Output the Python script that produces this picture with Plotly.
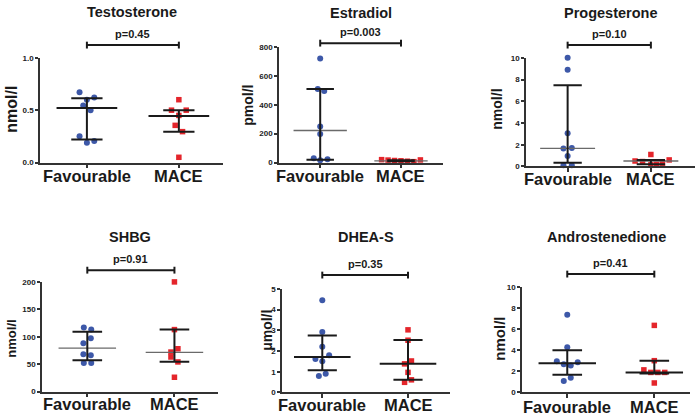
import plotly.graph_objects as go

# groups and panel texts
groups = ["Favourable", "MACE"]
titles = ["Testosterone", "Estradiol", "Progesterone", "SHBG", "DHEA-S", "Androstenedione"]
units = ["nmol/l", "pmol/l", "nmol/l", "nmol/l", "μmol/l", "nmol/l"]
pvals = ["p=0.45", "p=0.003", "p=0.10", "p=0.91", "p=0.35", "p=0.41"]
ymax = [1.0, 800, 10, 200, 5, 10]
ydtick = [0.5, 200, 2, 50, 1, 2]

# individual values
testo_fav = [0.67, 0.62, 0.60, 0.545, 0.50, 0.25, 0.19, 0.205]
testo_mace = [0.60, 0.50, 0.50, 0.45, 0.355, 0.295, 0.05]
estr_fav = [720, 510, 495, 250, 197, 30, 15, 22]
estr_mace = [20, 17, 14, 12, 9, 6, 18]
prog_fav = [10.0, 8.9, 3.05, 1.65, 1.7, 0.95, 0.1, 0.1]
prog_mace = [1.1, 0.5, 0.45, 0.6, 0.3, 0.15, 0.2]
shbg_fav = [117, 113, 97, 88, 68, 66, 52, 52]
shbg_mace = [200, 113, 78, 72, 63, 54, 26]
dhea_fav = [4.45, 2.92, 2.2, 1.8, 1.62, 1.51, 0.9, 0.8]
dhea_mace = [3.02, 2.52, 1.52, 1.38, 0.97, 0.61, 0.49]
andro_fav = [7.36, 4.29, 2.95, 2.86, 2.67, 2.55, 1.4, 1.09]
andro_mace = [6.35, 3.01, 2.14, 1.9, 1.9, 1.9, 0.9]

# median, q1, q3 as drawn (fav, mace)
testo_stats = [(0.52, 0.22, 0.615), (0.445, 0.295, 0.50)]
estr_stats = [(222, 20, 510), (12, 8, 16)]
prog_stats = [(1.67, 0.35, 7.47), (0.5, 0.2, 0.6)]
shbg_stats = [(79, 57, 109), (71.5, 54.5, 113)]
dhea_stats = [(1.71, 1.07, 2.75), (1.38, 0.61, 2.53)]
andro_stats = [(2.77, 1.67, 4.0), (1.9, 1.8, 3.0)]

values = [
    (testo_fav, testo_mace), (estr_fav, estr_mace), (prog_fav, prog_mace),
    (shbg_fav, shbg_mace), (dhea_fav, dhea_mace), (andro_fav, andro_mace),
]
stats = [testo_stats, estr_stats, prog_stats, shbg_stats, dhea_stats, andro_stats]

# horizontal scatter of dots (jitter), styling only
jitter = [
    ([-0.08, 0.08, 0, -0.04, 0.04, -0.08, 0, 0.08], [0, -0.08, 0.08, 0, -0.04, 0.04, 0]),
    ([0, -0.03, 0.05, 0, 0, -0.08, 0, 0.09], [-0.24, -0.16, -0.08, 0, 0.08, 0.16, 0.24]),
    ([0, 0, 0, -0.05, 0.05, 0, -0.05, 0.05], [0, -0.19, -0.1, 0.22, 0.14, 0, 0.07]),
    ([-0.04, 0.045, 0.04, -0.045, -0.045, 0.04, -0.04, 0.045], [0, 0, 0.04, -0.04, -0.04, 0.04, 0]),
    ([0, 0, 0, 0.08, -0.08, 0, 0.04, -0.04], [0, 0, 0.04, -0.04, 0, 0.04, -0.04]),
    ([0, 0, -0.12, 0.12, -0.04, 0.04, 0.04, -0.04], [0, 0, -0.12, -0.04, 0.04, 0.12, 0]),
]

# pixel layout of each panel: axis left, axis right, top (ymax), bottom (0),
# title / bracket / category label rows, unit label (x, y, size)
geo = [
    dict(x0=40, x1=223, top=55, bot=162, title=8, br=42, lab=176, ut=(12, 108, 16)),
    dict(x0=279, x1=443, top=44, bot=162, title=9, br=40, lab=176, ut=(248, 103, 14)),
    dict(x0=526, x1=695, top=55, bot=166, title=9, br=42, lab=179, ut=(497, 108, 14)),
    dict(x0=42, x1=218, top=284, bot=396, title=238, br=272, lab=409, ut=(12, 342, 13)),
    dict(x0=282, x1=450, top=291, bot=397, title=238, br=277, lab=410, ut=(267, 334, 14)),
    dict(x0=522, x1=690, top=289, bot=397, title=238, br=276, lab=412, ut=(500, 342, 15)),
]
xranges = [[-0.51, 1.48], [-0.51, 1.52], [-0.5, 1.53], [-0.52, 1.5], [-0.47, 1.49], [-0.52, 1.41]]
grey_median = [False, True, True, True, False, False]

W, H = 700, 420
FONT = "Liberation Sans, Arial, sans-serif"
BLUE = "#3d58a8"
RED = "#e4252b"
INK = "#1a1a1a"

fig = go.Figure()
annotations = []
shapes = []

for i in range(6):
    g = geo[i]
    ax = "" if i == 0 else str(i + 1)
    xref, yref = "x" + ax, "y" + ax
    fav, mace = values[i]
    jf, jm = jitter[i]

    fig.add_trace(go.Scatter(
        x=[0 + d for d in jf], y=fav, mode="markers", xaxis=xref, yaxis=yref,
        marker=dict(symbol="circle", size=6, color=BLUE), cliponaxis=False, showlegend=False))
    fig.add_trace(go.Scatter(
        x=[1 + d for d in jm], y=mace, mode="markers", xaxis=xref, yaxis=yref,
        marker=dict(symbol="square", size=5.5, color=RED), cliponaxis=False, showlegend=False))

    for gi, (med, q1, q3) in enumerate(stats[i]):
        mcol = "#6a6a6a" if grey_median[i] else INK
        mw = 1.3 if grey_median[i] else 2
        fig.add_trace(go.Scatter(
            x=[gi - 0.33, gi + 0.33], y=[med, med], mode="lines", xaxis=xref, yaxis=yref,
            line=dict(color=mcol, width=mw), showlegend=False, hoverinfo="skip"))
        fig.add_trace(go.Scatter(
            x=[gi, gi, None, gi - 0.17, gi + 0.17, None, gi - 0.17, gi + 0.17],
            y=[q1, q3, None, q1, q1, None, q3, q3], mode="lines", xaxis=xref, yaxis=yref,
            line=dict(color=INK, width=2), showlegend=False, hoverinfo="skip"))

    axis_common = dict(showgrid=False, zeroline=False, showline=True, linecolor="#333",
                       linewidth=1.5, ticks="outside", tickcolor="#333", tickwidth=1.5)
    fig.update_layout(**{
        "xaxis" + ax: dict(axis_common, domain=[g["x0"] / W, g["x1"] / W], range=xranges[i],
                           anchor=yref, tickvals=[0, 1], showticklabels=False, ticklen=4),
        "yaxis" + ax: dict(axis_common, domain=[1 - g["bot"] / H, 1 - g["top"] / H],
                           range=[0, ymax[i]], anchor=xref, dtick=ydtick[i], ticklen=3,
                           tickformat=".1f" if i == 0 else "d",
                           tickfont=dict(family=FONT, size=8, color="#222", weight="bold")),
    })

    # category labels
    for gi, name in enumerate(groups):
        annotations.append(dict(text=name, xref=xref, yref="paper", x=gi, y=1 - g["lab"] / H,
                                xanchor="center", yanchor="middle", showarrow=False,
                                font=dict(family=FONT, size=16.5, color=INK, weight="bold")))
    # title
    annotations.append(dict(text=titles[i], xref="paper", yref="paper",
                            x=(g["x0"] + g["x1"]) / 2 / W, y=1 - g["title"] / H,
                            xanchor="center", yanchor="middle", showarrow=False,
                            font=dict(family=FONT, size=14.5, color=INK, weight="bold")))
    # unit
    ux, uy, us = g["ut"]
    annotations.append(dict(text=units[i], xref="paper", yref="paper", x=ux / W, y=1 - uy / H,
                            textangle=-90, xanchor="center", yanchor="middle", showarrow=False,
                            font=dict(family=FONT, size=us, color=INK, weight="bold")))
    # bracket + p value
    by = 1 - g["br"] / H
    tick = 3.5 / H
    shapes.append(dict(type="line", xref=xref, yref="paper", x0=0, x1=1, y0=by, y1=by,
                       line=dict(color=INK, width=2)))
    for bx in (0, 1):
        shapes.append(dict(type="line", xref=xref, yref="paper", x0=bx, x1=bx,
                           y0=by - tick, y1=by + tick, line=dict(color=INK, width=2)))
    annotations.append(dict(text=pvals[i], xref=xref, yref="paper", x=0.5, y=by + 3 / H,
                            xanchor="center", yanchor="bottom", showarrow=False,
                            font=dict(family=FONT, size=11, color=INK, weight="bold")))

fig.update_layout(
    width=W, height=H, margin=dict(l=0, r=0, t=0, b=0),
    paper_bgcolor="white", plot_bgcolor="white",
    annotations=annotations, shapes=shapes, showlegend=False,
)

# the page's default body margin would shift the figure
fig.write_html("out.html", config={"displayModeBar": False},
               post_script="document.body.style.margin='0px';")
